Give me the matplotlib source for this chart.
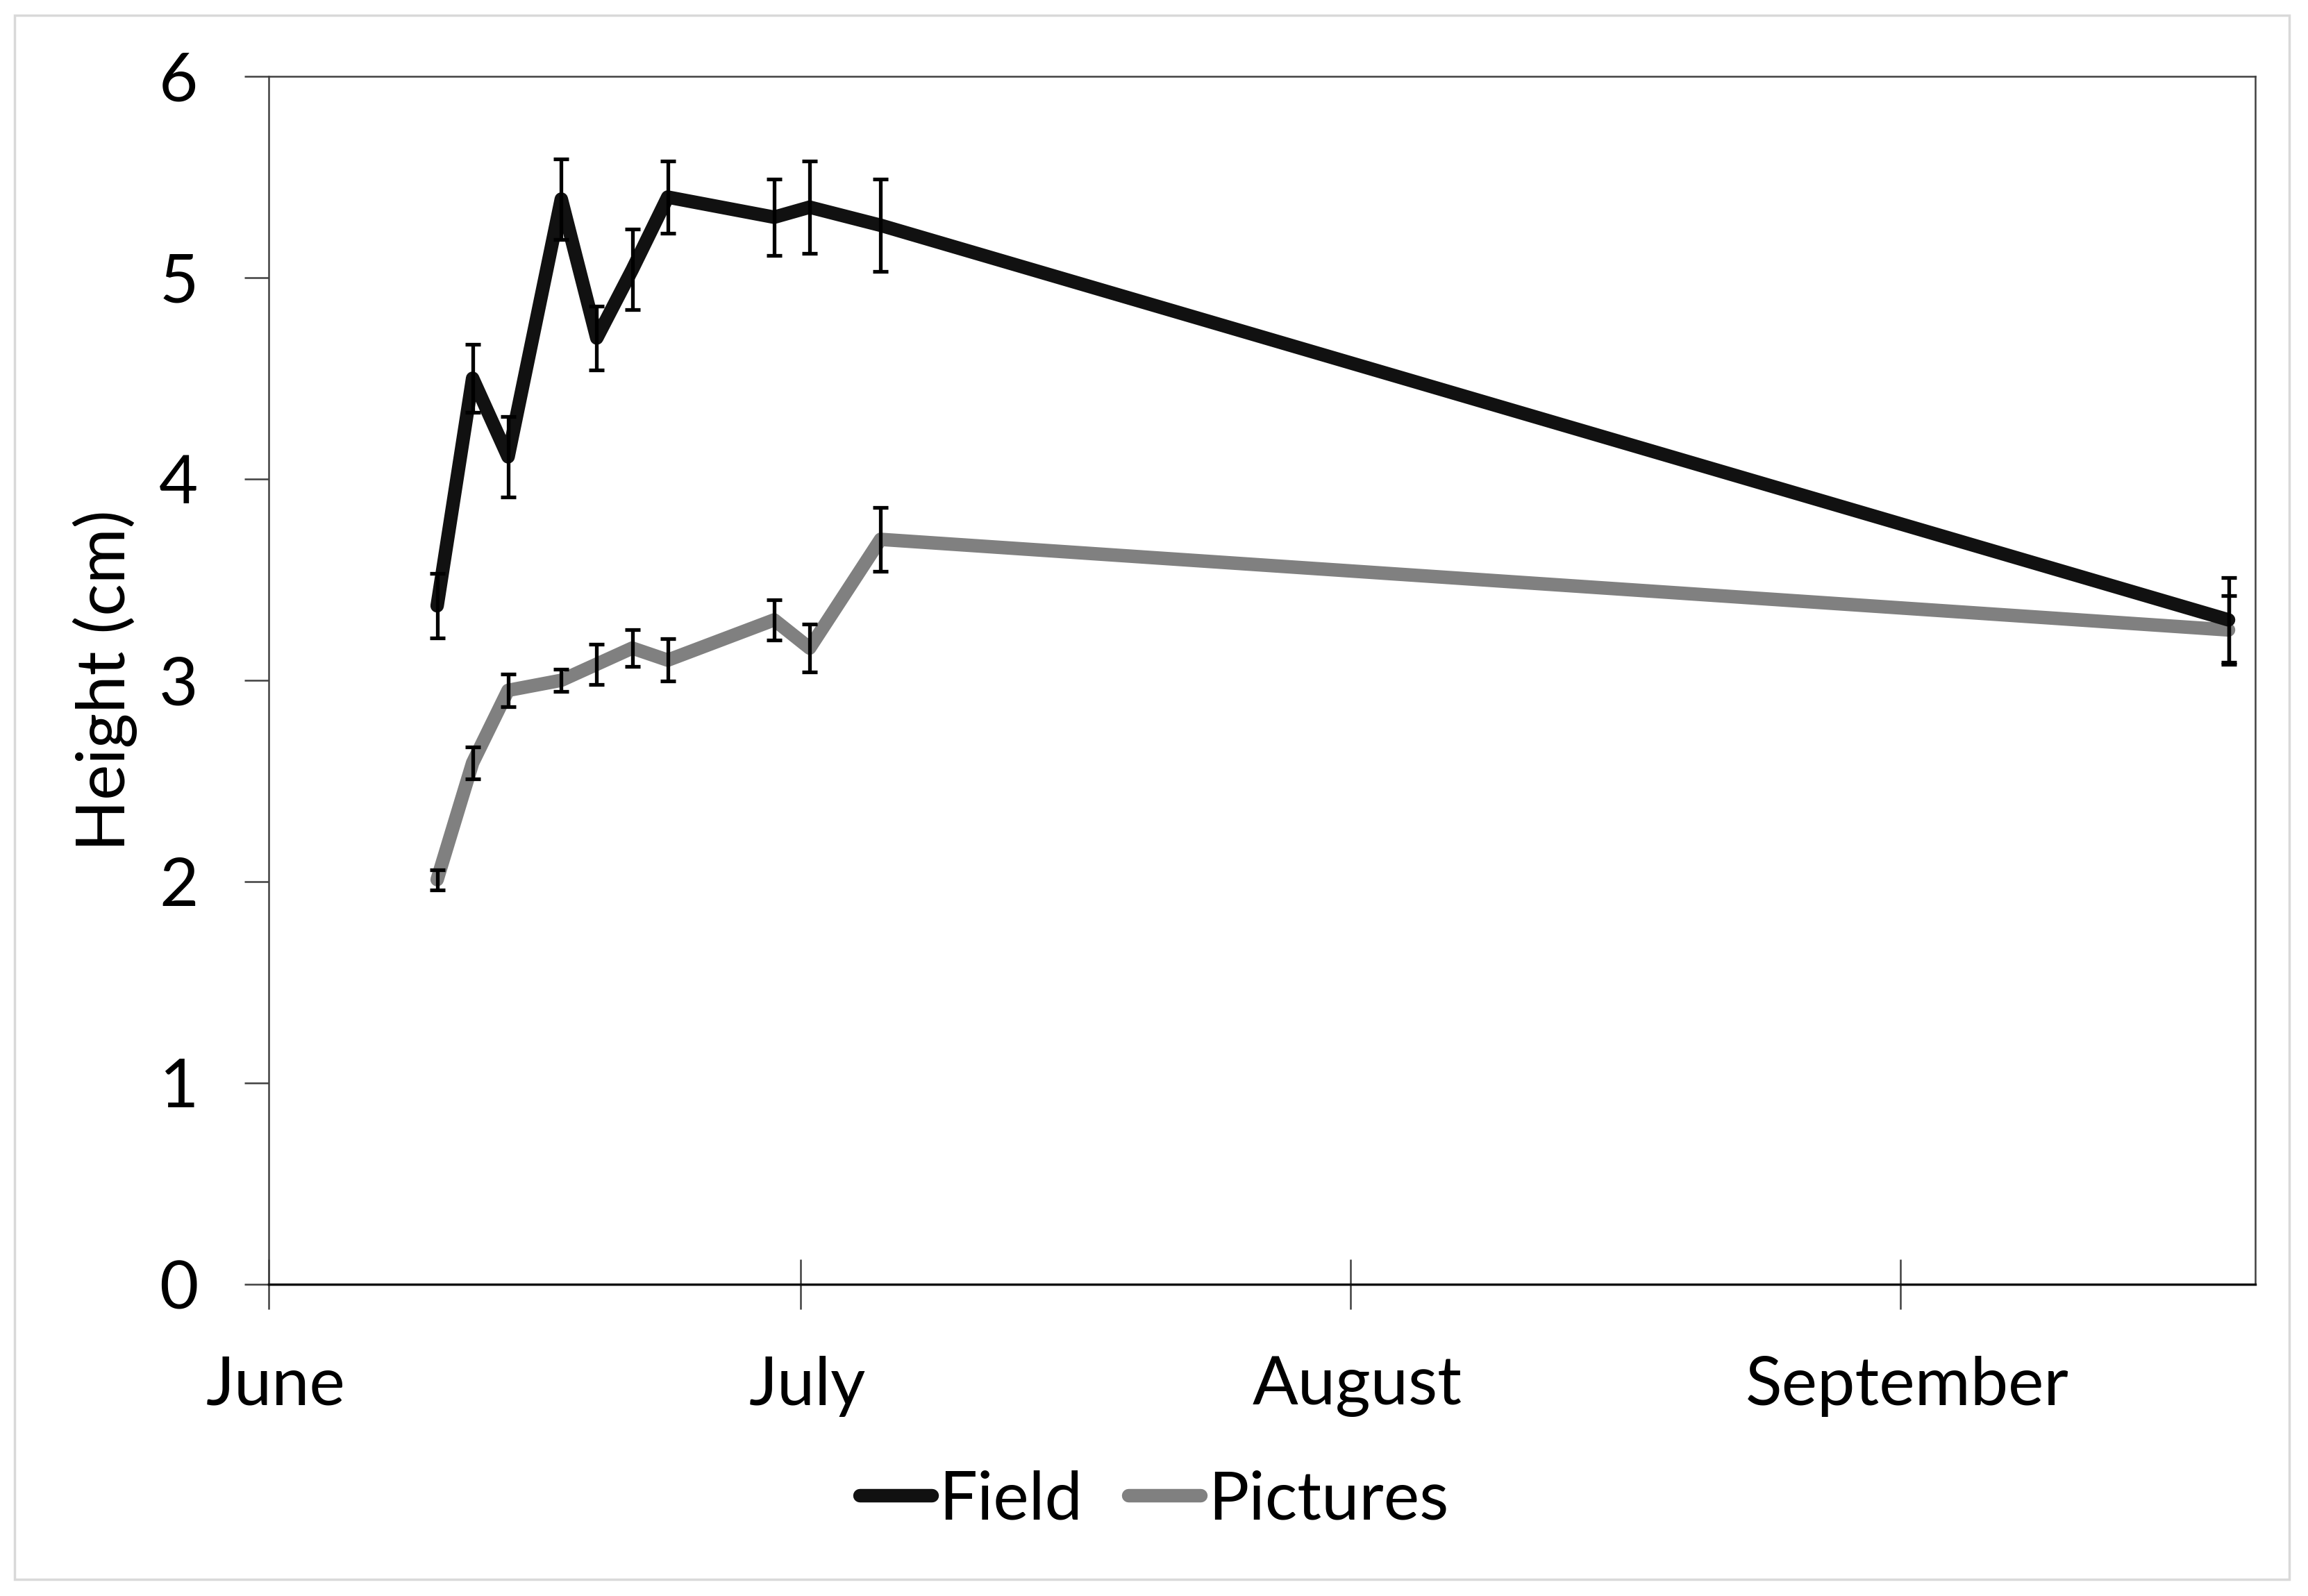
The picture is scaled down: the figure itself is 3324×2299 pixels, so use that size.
import pandas as pd
import matplotlib.pyplot as plt
import matplotlib.transforms as mtransforms
from matplotlib.patches import Rectangle

plt.rcParams['font.family'] = ['Lato', 'DejaVu Sans']

# sampling dates and mean heights (cm) with error bars
dates = ['2013-06-10', '2013-06-12', '2013-06-14', '2013-06-17', '2013-06-19',
         '2013-06-21', '2013-06-23', '2013-06-29', '2013-07-01', '2013-07-05',
         '2013-09-19']
field = [3.37, 4.50, 4.11, 5.39, 4.70, 5.04, 5.40, 5.30, 5.35, 5.26, 3.30]
field_err = [0.16, 0.17, 0.20, 0.20, 0.16, 0.20, 0.18, 0.19, 0.23, 0.23, 0.21]
pictures = [2.01, 2.59, 2.95, 3.00, 3.08, 3.16, 3.10, 3.30, 3.16, 3.70, 3.25]
pictures_err = [0.05, 0.08, 0.08, 0.055, 0.10, 0.09, 0.105, 0.10, 0.12, 0.16, 0.17]

month_ticks = ['2013-06-01', '2013-07-01', '2013-08-01', '2013-09-01']
month_labels = ['June', 'July', 'August', 'September']
x_range = ['2013-06-01', '2013-09-21']

# excel puts each point in the middle of its day slot
x = pd.to_datetime(dates) + pd.Timedelta(hours=12)

fig = plt.figure(figsize=(33.24, 22.99), dpi=100)
ax = fig.add_axes([0.1164, 0.1953, 0.8607, 0.7569])

ax.plot(x, pictures, color='#808080', lw=14, solid_joinstyle='round',
        solid_capstyle='round', label='Pictures', zorder=2)
ax.plot(x, field, color='#111111', lw=14, solid_joinstyle='round',
        solid_capstyle='round', label='Field', zorder=3)
ax.errorbar(x, pictures, yerr=pictures_err, fmt='none', ecolor='black',
            elinewidth=3.8, capsize=8, capthick=3.8, zorder=4)
ax.errorbar(x, field, yerr=field_err, fmt='none', ecolor='black',
            elinewidth=3.8, capsize=8, capthick=3.8, zorder=4)

ax.set_ylim(0, 6)
ax.set_yticks(range(0, 7))
ax.set_xlim(pd.to_datetime(x_range[0]), pd.to_datetime(x_range[1]))
ax.set_xticks(pd.to_datetime(month_ticks))
ax.set_xticklabels(month_labels)

ax.tick_params(axis='y', direction='out', length=25, width=1.8, color='#404040',
               labelsize=70, pad=48)
ax.tick_params(axis='x', direction='inout', length=52, width=1.8, color='#404040',
               labelsize=70, pad=48)

# month labels sit a touch right of their ticks in the original
shift = mtransforms.ScaledTranslation(10 / 100, 0, fig.dpi_scale_trans)
for lab in ax.get_xticklabels():
    lab.set_transform(lab.get_transform() + shift)

for side in ['left', 'top', 'right']:
    ax.spines[side].set_color('#404040')
    ax.spines[side].set_linewidth(1.8)
ax.spines['bottom'].set_color('#111111')
ax.spines['bottom'].set_linewidth(2.5)

ax.set_ylabel('Height (cm)', fontsize=70)
ax.yaxis.set_label_coords(-0.066, 0.5)

handles, labels = ax.get_legend_handles_labels()
fig.legend(handles[::-1], labels[::-1], loc='center', bbox_to_anchor=(0.5, 0.06),
           ncol=2, frameon=False, fontsize=70, handlelength=1.07,
           handletextpad=0.11, columnspacing=0.68)

fig.patches.append(Rectangle((0.0063, 0.0104), 0.9856, 0.980, transform=fig.transFigure,
                             fill=False, edgecolor='#d9d9d9', linewidth=2.5))

fig.savefig('out.png', dpi=100, facecolor='white')
